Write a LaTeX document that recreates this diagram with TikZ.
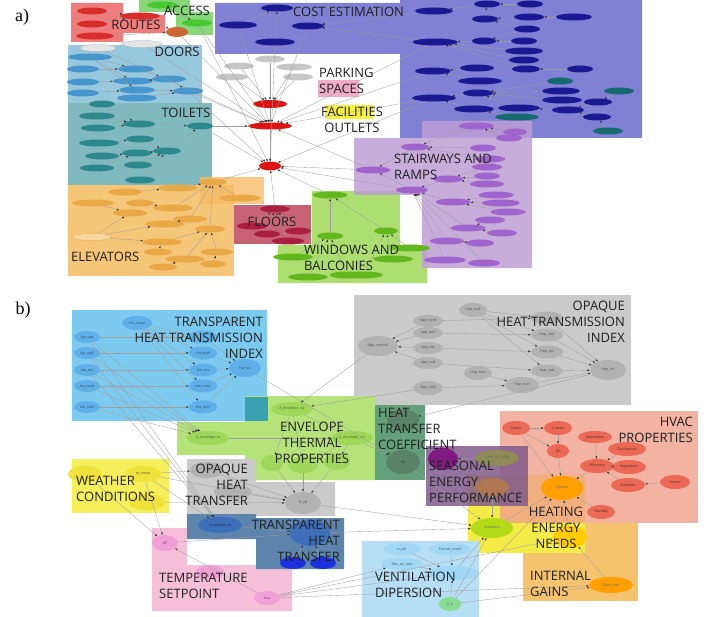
\documentclass[tikz,border=0pt]{standalone}
\usepackage{fontspec}
\setmainfont{Open Sans}
\newfontfamily\panelfont{Liberation Serif}
\usetikzlibrary{arrows.meta,shapes.geometric}

% panel a colours
\definecolor{routeBox}{RGB}{240,125,125}
\definecolor{routeNode}{RGB}{215,45,45}
\definecolor{accBox}{RGB}{135,215,120}
\definecolor{accNode}{RGB}{70,200,50}
\definecolor{costBox}{RGB}{128,128,212}
\definecolor{costNode}{RGB}{25,25,145}
\definecolor{costTeal}{RGB}{20,105,110}
\definecolor{doorBox}{RGB}{152,200,222}
\definecolor{doorNode}{RGB}{70,150,205}
\definecolor{toilBox}{RGB}{128,186,190}
\definecolor{toilNode}{RGB}{45,135,140}
\definecolor{elevBox}{RGB}{246,198,120}
\definecolor{elevNode}{RGB}{232,168,70}
\definecolor{floorBox}{RGB}{200,98,118}
\definecolor{floorNode}{RGB}{170,30,65}
\definecolor{winBox}{RGB}{172,222,112}
\definecolor{winNode}{RGB}{100,182,30}
\definecolor{stairBox}{RGB}{190,158,212}
\definecolor{stairNode}{RGB}{160,100,205}
\definecolor{parkBox}{RGB}{240,172,200}
\definecolor{facBox}{RGB}{245,240,60}
\definecolor{hubNode}{RGB}{222,20,20}
% panel b colours
\definecolor{tBox}{RGB}{125,202,240}
\definecolor{tNode}{RGB}{95,175,232}
\definecolor{envBox}{RGB}{182,226,122}
\definecolor{envNode}{RGB}{160,215,90}
\definecolor{coefBox}{RGB}{100,160,122}
\definecolor{coefNode}{RGB}{90,130,105}
\definecolor{opBox}{RGB}{202,202,202}
\definecolor{opNode}{RGB}{178,178,178}
\definecolor{hvacBox}{RGB}{240,160,140}
\definecolor{hvacNode}{RGB}{235,105,85}
\definecolor{seasBox}{RGB}{128,90,140}
\definecolor{heatBox}{RGB}{245,235,70}
\definecolor{gainBox}{RGB}{245,195,110}
\definecolor{ventBox}{RGB}{182,222,245}
\definecolor{ventNode}{RGB}{160,215,245}
\definecolor{weatBox}{RGB}{245,240,90}
\definecolor{weatNode}{RGB}{240,225,60}
\definecolor{trBox}{RGB}{92,132,172}
\definecolor{trNode}{RGB}{60,110,185}
\definecolor{tempBox}{RGB}{245,192,215}
\definecolor{tempNode}{RGB}{240,160,215}

\begin{document}
\begin{tikzpicture}[x=1pt,y=-1pt]
\tikzset{
  el/.style={ellipse,inner sep=0pt,minimum height=7pt,minimum width=24pt,font=\fontsize{3.6}{4}\selectfont},
  grp/.style={font=\fontsize{13}{16}\selectfont,text=black!88,inner sep=0pt},
  panel/.style={font=\panelfont\fontsize{18}{20}\selectfont,inner sep=0pt},
  arr/.style={-{Latex[length=2.4pt,width=2pt,color=black!80]},draw=gray!75,line width=0.35pt}
}
\useasboundingbox (0,0) rectangle (708,617);

%% ---------------- a) groups
\fill[routeBox] (71,3) rectangle (123,42) (123,15) rectangle (165,33);
\fill[accBox] (139,0) rectangle (190,12) (176,12) rectangle (213,35);
\fill[costBox] (215,3)--(400,3)--(400,0)--(642,0)--(642,138)--(400,138)--(400,54)--(215,54)--cycle;
\fill[doorBox] (68,45) rectangle (202,103);
\fill[toilBox] (68,103) rectangle (212,185);
\fill[elevBox] (68,185) rectangle (234,276);
\fill[elevBox!85!orange,opacity=0.8] (200,177) rectangle (264,204);
\fill[floorBox] (234,205) rectangle (311,244);
\fill[winBox] (312,191)--(400,191)--(400,245)--(427,245)--(427,283)--(278,283)--(278,245)--(312,245)--cycle;
\fill[stairBox,opacity=0.85] (422,121)--(532,121)--(532,268)--(422,268)--(422,195)--(354,195)--(354,138)--(422,138)--cycle;
\fill[parkBox] (318,80) rectangle (359,97);
\fill[facBox] (325,105) rectangle (373,119);

%% ---------------- b) groups
\fill[tBox] (72,310) rectangle (267,421);
\fill[opBox] (354,295) rectangle (631,405);
\fill[envBox] (245,396)--(375,396)--(375,480)--(245,480)--(245,455)--(177,455)--(177,422)--(245,422)--cycle;
\fill[teal!55!tBox] (245,397) rectangle (268,421);
\fill[coefBox] (375,405) rectangle (425,480);
\fill[gainBox] (523,523) rectangle (638,601);
\fill[heatBox] (468,475) rectangle (585,553);
\fill[hvacBox,opacity=0.8] (500,411) rectangle (698,523);
\fill[seasBox,opacity=0.85] (426,446) rectangle (528,506);
\fill[ventBox] (362,541) rectangle (479,617);
\fill[weatBox] (72,459) rectangle (169,513);
\fill[opBox] (187,459)--(256,459)--(256,482)--(335,482)--(335,516)--(187,516)--cycle;
\fill[tempBox] (152,528)--(187,528)--(187,565)--(292,565)--(292,611)--(152,611)--cycle;
\fill[trBox] (187,514)--(256,514)--(256,518)--(344,518)--(344,569)--(256,569)--(256,539)--(187,539)--cycle;

%% ---------------- a) nodes
\foreach \n/\x/\y/\w in {r1/92/11/30,r2/92/24/30,r3/95/36/38,r4/140/16/40}
  \node[el,fill=routeNode,minimum width=\w] (\n) at (\x,\y) {};
\node[el,fill=brown!80!red,minimum width=22pt,minimum height=10pt] (r5) at (177,32) {};
\foreach \n/\x/\y/\w in {a1/162/5/30,a2/197/23/30}
  \node[el,fill=accNode,minimum width=\w] (\n) at (\x,\y) {};
\foreach \n/\x/\y/\w in {c1/277/8/32,c2/238/25/38,c3/308/26/32,c4/275/42/40,c5/434/11/38,
    c6/487/4/26,c7/530/4/26,c8/485/19/26,c9/529/17/30,c10/574/17/36,c11/527/29/26,
    c12/435/42/45,c13/484/41/24,c14/524/41/26,c15/524/51/38,c16/524/60/30,c17/526/69/28,
    c18/580/69/26,c19/433/71/36,c20/477/68/34,c21/480/81/44,c23/434/98/44,c24/478/93/30,
    c25/561/91/38,c26/562/100/40,c27/474/109/40,c28/519/108/42,c29/568/110/32,c30/598/102/28,c32/597/117/28}
  \node[el,fill=costNode,minimum width=\w] (\n) at (\x,\y) {};
\foreach \n/\x/\y/\w in {c22/560/81/26,c31/619/91/30,c33/608/131/30,c34/517/117/44}
  \node[el,fill=costTeal,minimum width=\w] (\n) at (\x,\y) {};
\foreach \n/\x/\y/\w in {d1/98/48/36,d2/142/44/40}
  \node[el,fill=gray!20,draw=gray!60,line width=0.3pt,minimum width=\w] (\n) at (\x,\y) {};
\foreach \n/\x/\y/\w in {d3/90/57/44,d4/83/69/32,d5/136/69/36,d6/83/82/32,d7/133/81/40,d8/169/79/34,
    d9/83/93/32,d10/137/90/36,d11/188/91/30,d12/137/98/40}
  \node[el,fill=doorNode,minimum width=\w] (\n) at (\x,\y) {};
\foreach \n/\x/\y/\w in {t1/102/104/26,t2/97/116/36,t3/139/124/32,t4/98/128/34,t5/200/126/26,
    t6/99/143/40,t7/140/139/28,t8/102/156/34,t9/137/153/30,t10/167/151/28,t11/97/168/34,
    t12/138/165/28,t13/140/180/30}
  \node[el,fill=toilNode,minimum width=\w] (\n) at (\x,\y) {};
\foreach \n/\x/\y/\w in {e1/125/192/34,e2/178/188/40,e3/213/182/28,e4/93/203/42,e5/140/203/28,
    e6/130/213/35,e7/173/208/40,e8/240/198/42,e9/190/219/34,e10/165/224/40,e12/210/229/30,
    e13/162/242/40,e14/158/252/28,e15/217/252/32,e16/185/259/40,e17/163/267/28,e18/213/264/26}
  \node[el,fill=elevNode,minimum width=\w] (\n) at (\x,\y) {};
\node[el,fill=elevBox!70!white,draw=elevNode,line width=0.3pt,minimum width=40pt] (e11) at (92,237) {};
\foreach \n/\x/\y/\w in {f1/275/209/30,f2/252/226/30,f3/267/234/26,f4/298/231/26,f5/288/241/32}
  \node[el,fill=floorNode,minimum width=\w] (\n) at (\x,\y) {};
\foreach \n/\x/\y/\w in {w1/330/195/35,w2/330/236/26,w9/386/231/24,w3/293/257/40,w4/410/248/40,
    w5/393/259/40,w6/308/277/40,w7/347/275/35,w8/363/275/40}
  \node[el,fill=winNode,minimum width=\w] (\n) at (\x,\y) {};
\foreach \n/\x/\y/\w in {s1/476/126/35,s2/515/132/24,s3/509/138/26,s4/415/147/28,s5/483/148/26,
    s6/490/159/30,s7/487/167/30,s8/373/170/35,s9/448/179/30,s10/487/176/26,s11/487/184/34,
    s12/412/190/32,s13/496/195/35,s14/453/202/35,s15/501/203/38,s16/508/212/35,s17/490/220/30,
    s18/468/228/35,s19/502/233/30,s20/447/241/35,s21/480/243/28,s22/445/260/42,s23/484/263/32}
  \node[el,fill=stairNode,minimum width=\w] (\n) at (\x,\y) {};
\foreach \n/\x/\y/\w in {g1/270/59/30,g2/239/66/30,g3/294/67/36,g4/232/77/32,g5/298/77/30}
  \node[el,fill=gray!45,minimum width=\w] (\n) at (\x,\y) {};
\node[el,fill=hubNode,minimum width=34pt,minimum height=8pt] (h1) at (270,104) {};
\node[el,fill=hubNode,minimum width=44pt,minimum height=7pt] (h2) at (270,126) {};
\node[el,fill=hubNode,minimum width=22pt,minimum height=9pt] (h3) at (270,166) {};

%% ---------------- b) nodes
\foreach \n/\x/\y/\w/\h/\lbl in {hwmean/137/323/30/14/Hw\_mean,awsud/87/337/26/12/Aw\_sud,
    awwall/87/353/26/12/Aw\_wall,awest/87/370/26/12/Aw\_est,awnord/87/386/26/12/Aw\_nord,
    awroof/87/407/26/12/Aw\_roof,hwsud/203/337/28/13/{},hwwall/203/353/28/13/Hw\_wall,
    hwest/203/370/28/13/Hw\_est,hwnord/203/386/28/13/Hw\_nord,hwroof/203/407/28/13/Hw\_roof,
    hwtot/245/368/32/18/Hw\_tot}
  \node[el,fill=tNode,text=tNode!45!black,minimum width=\w,minimum height=\h] (\n) at (\x,\y) {\lbl};
\foreach \n/\x/\y/\w/\h/\lbl in {aenvw/208/438/42/14/A\_envelope\_w,aenvop/292/409/42/14/A\_envelope\_op,
    aenvtot/352/438/42/14/A\_envelope\_tot,hea/272/463/22/16/{},heb/303/465/30/16/{},hec/337/462/26/16/{}}
  \node[el,fill=envNode,text=envNode!45!black,minimum width=\w,minimum height=\h] (\n) at (\x,\y) {\lbl};
\foreach \n/\x/\y/\w/\h/\lbl in {uopwall/473/310/28/14/Uop\_wall,appnord/428/321/30/12/App\_nord,
    appwall/428/333/30/12/App\_wall,appest/428/348/30/12/App\_est,appsud/428/363/30/12/App\_sud,
    approof/428/388/30/14/App\_roof,appvert/378/346/40/20/App\_vertical,hopnord/547/318/32/13/{},
    hopwall/547/335/32/13/Hop\_wall,hopest/547/352/32/13/Hop\_est,hopsud/547/371/32/13/Hop\_sud,
    uoproof/478/373/28/14/Uop\_roof,hoproof/522/385/34/16/Hop\_roof,hoptot/608/370/36/20/Hop\_tot,
    op1/207/470/34/16/{},irrop/233/492/38/14/{},hop/303/503/36/22/H\_op}
  \node[el,fill=opNode,text=opNode!45!black,minimum width=\w,minimum height=\h] (\n) at (\x,\y) {\lbl};
\foreach \n/\x/\y/\w/\h/\lbl in {htr/403/420/32/22/{},ht/403/462/34/24/Ht}
  \node[el,fill=coefNode,text=coefNode!40!black,minimum width=\w,minimum height=\h] (\n) at (\x,\y) {\lbl};
\node[el,fill=violet!70!seasBox,minimum width=30pt,minimum height=22pt] (pse) at (443,459) {};
\node[el,fill=gray!60!olive,text=black!60,minimum width=44pt,minimum height=16pt] (hrate) at (497,458) {Heating\_rating};
\node[el,fill=brown!75!seasBox,minimum width=34pt,minimum height=18pt] (qnd) at (492,487) {};
\foreach \n/\x/\y/\w/\h/\lbl in {power/516/428/28/14/Power,vwater/558/428/28/14/V\_water,
    gener/595/437/34/12/Generation,distr/627/449/38/14/Distribution,qh/558/451/22/14/Qh,
    effic/597/466/34/14/Efficiency,regul/629/467/34/14/Regulation,emiss/628/485/34/14/Emission,
    heater/675/482/30/14/Heater,standby/601/512/28/14/Standby}
  \node[el,fill=hvacNode,text=hvacNode!40!black,minimum width=\w,minimum height=\h] (\n) at (\x,\y) {\lbl};
\node[el,fill=orange!75!yellow,text=black!60,minimum width=42pt,minimum height=24pt] (system) at (562,488) {System};
\node[el,fill=yellow!70!green,text=black!60,minimum width=42pt,minimum height=20pt] (envel) at (492,528) {Envelope};
\node[el,fill=orange!40!yellow,minimum width=34pt,minimum height=22pt] (qgain) at (570,537) {};
\node[el,fill=orange!75!yellow,text=black!60,minimum width=44pt,minimum height=16pt] (gainsocc) at (611,585) {Gains\_occ};
\foreach \n/\x/\y/\w/\h/\lbl in {mair/402/549/38/12/m\_air,forced/450/549/42/12/Forced\_ventil,
    extr/402/564/42/12/Extr\_air\_rate,hv/453/573/50/14/{}}
  \node[el,fill=ventNode,text=ventNode!40!black,minimum width=\w,minimum height=\h] (\n) at (\x,\y) {\lbl};
\node[el,fill=green!25!ventNode!60!envNode,text=black!60,minimum width=22pt,minimum height=14pt] (au) at (450,604) {A\_u};
\foreach \n/\x/\y/\w/\h/\lbl in {dt/165/543/26/16/dT,tset/210/572/28/14/{},usa/267/598/26/14/Usa}
  \node[el,fill=tempNode,text=tempNode!40!black,minimum width=\w,minimum height=\h] (\n) at (\x,\y) {\lbl};
\foreach \n/\x/\y/\w/\h/\lbl in {wt1/85/474/34/16/{},temean/143/474/36/16/te\_mean,isol/147/502/36/16/{}}
  \node[el,fill=weatNode,text=weatNode!40!black,minimum width=\w,minimum height=\h] (\n) at (\x,\y) {\lbl};
\foreach \n/\x/\y/\w/\h/\lbl in {irrw/220/525/44/16/Irradiation\_w,hwbig/310/533/40/26/{}}
  \node[el,fill=trNode,text=trNode!40!black,minimum width=\w,minimum height=\h] (\n) at (\x,\y) {\lbl};
\foreach \n/\x in {tw1/293,tw2/323}
  \node[el,fill=blue!55!trNode,minimum width=26pt,minimum height=12pt] (\n) at (\x,563) {};

%% ---------------- a) connectors
\foreach \a/\b in {r1/r4,r2/r4,r4/r5,r3/r5,a1/a2,
    c4/c1,c2/c1,c5/c3,c6/c5,c8/c6,c7/c6,c9/c8,c10/c9,c11/c8,c13/c12,c14/c13,c11/c13,c15/c12,c16/c12,
    c17/c12,c18/c17,c20/c19,c21/c19,c24/c23,c22/c24,c25/c24,c26/c24,c28/c24,c29/c28,c30/c29,c31/c30,
    c32/c29,c33/c32,c34/c27,c27/c23,c12/c3,
    d3/d5,d3/d7,d4/d5,d5/d8,d6/d7,d7/d8,d9/d10,d10/d11,d8/d11,d12/d11,d3/d10,
    t1/t3,t2/t3,t4/t3,t3/t5,t6/t7,t7/t10,t8/t9,t11/t9,t9/t10,t12/t10,t13/t10,t10/t5,
    e1/e2,e2/e3,e4/e6,e5/e7,e7/e3,e11/e6,e11/e10,e11/e13,e9/e3,e12/e3,e13/e12,e14/e13,e16/e12,
    e15/e12,e17/e16,e18/e15,e8/e3,e10/e9,
    f2/f1,f3/f1,f4/f1,f5/f1,
    w2/w1,w3/w2,w6/w2,w7/w2,w4/w9,w5/w9,w8/w9,w9/w1,
    s2/s1,s3/s1,s1/s4,s5/s4,s6/s4,s4/s8,s7/s9,s10/s9,s11/s9,s9/s12,s12/s8,s13/s14,s15/s14,s16/s14,
    s14/s12,s17/s18,s19/s18,s18/s12,s21/s20,s20/s12,s22/s12,s23/s12,
    g1/h1,g2/h1,g3/h1,g4/h1,g5/h1,
    r5/h2,a2/h2,c2/h2,c3/h2,c12/h2,c19/h2,c23/h2,d11/h2,t5/h2,d1/h2,d2/h2,s8/h2,h1/h2,
    e3/h3,f1/h3,w1/h3,s8/h3,a2/h3,c4/h3,d11/h3,t5/h3,h2/h3,s12/h3,c23/h3}
  \draw[arr] (\a) -- (\b);

%% ---------------- b) connectors
\foreach \a/\b in {awsud/hwsud,awwall/hwwall,awest/hwest,awnord/hwnord,awroof/hwroof,
    hwmean/hwwall,hwmean/hwest,hwmean/hwnord,hwmean/hwroof,hwmean/hwsud,
    hwsud/hwtot,hwwall/hwtot,hwest/hwtot,hwnord/hwtot,hwroof/hwtot,
    awsud/aenvw,awwall/aenvw,awest/aenvw,awnord/aenvw,awroof/aenvw,
    awwall/irrw,awest/irrw,awsud/irrw,hwtot/ht,
    aenvw/aenvtot,aenvop/aenvtot,appvert/aenvop,approof/aenvop,aenvtot/ht,
    aenvop/hea,aenvop/heb,aenvtot/hec,aenvtot/heb,hea/hop,heb/hop,hec/hop,
    appnord/appvert,appwall/appvert,appest/appvert,appsud/appvert,
    appnord/hopnord,appwall/hopwall,appest/hopest,appsud/hopsud,approof/hoproof,
    uopwall/hopnord,uopwall/hopwall,uopwall/hopest,uopwall/hopsud,uoproof/hoproof,
    hopnord/hoptot,hopwall/hoptot,hopest/hoptot,hopsud/hoptot,hoproof/hoptot,hoptot/htr,htr/ht,
    temean/op1,temean/irrw,temean/hop,wt1/dt,temean/dt,isol/hop,op1/hop,irrop/hop,
    irrw/hwbig,dt/hwbig,usa/dt,tw1/hwbig,tw2/hwbig,hop/envel,hwbig/envel,ht/envel,
    usa/extr,usa/hv,usa/gainsocc,usa/qgain,mair/hv,forced/hv,extr/hv,au/hv,hv/envel,au/envel,
    au/gainsocc,au/system,gainsocc/qgain,qgain/system,
    power/vwater,power/qh,vwater/qh,qh/system,gener/effic,distr/effic,regul/effic,emiss/effic,
    heater/emiss,effic/system,power/system,standby/system,envel/system,hrate/pse,qnd/envel}
  \draw[arr] (\a) -- (\b);

%% ---------------- labels
\node[panel] (pa) at (22,17) {a)};
\node[panel] (pb) at (23,310) {b)};
\node[grp] (lroutes) at (136,25) {ROUTES};
\node[grp] (laccess) at (187,11) {ACCESS};
\node[grp,anchor=west] (lcost) at (293,12) {COST ESTIMATION};
\node[grp] (ldoors) at (177,52) {DOORS};
\node[grp] (ltoilets) at (186,113) {TOILETS};
\node[grp,anchor=west] (lelev) at (71,257) {ELEVATORS};
\node[grp] (lfloors) at (272,222) {FLOORS};
\node[grp,anchor=west,align=left] (lwin) at (304,258) {WINDOWS AND\\BALCONIES};
\node[grp,anchor=west,align=left] (lpark) at (319,81) {PARKING\\SPACES};
\node[grp,align=center] (lfac) at (352,120) {FACILITIES\\OUTLETS};
\node[grp,anchor=west,align=left] (lstair) at (394,167) {STAIRWAYS AND\\RAMPS};

\node[grp,anchor=east,align=right] (ltrind) at (263,338) {TRANSPARENT\\HEAT TRANSMISSION\\INDEX};
\node[grp,anchor=east,align=right] (lopind) at (625,322) {OPAQUE\\HEAT TRANSMISSION\\INDEX};
\node[grp,align=center] (lenv) at (312,443) {ENVELOPE\\THERMAL\\PROPERTIES};
\node[grp,anchor=west,align=left] (lcoef) at (378,429) {HEAT\\TRANSFER\\COEFFICIENT};
\node[grp,anchor=east,align=right] (lhvac) at (693,430) {HVAC\\PROPERTIES};
\node[grp,anchor=west,align=left] (lseas) at (429,482) {SEASONAL\\ENERGY\\PERFORMANCE};
\node[grp,align=center] (lheat) at (556,528) {HEATING\\ENERGY\\NEEDS};
\node[grp,anchor=west,align=left] (lgains) at (530,584) {INTERNAL\\GAINS};
\node[grp,anchor=west,align=left] (lvent) at (375,585) {VENTILATION\\DIPERSION};
\node[grp,anchor=west,align=left] (lweat) at (76,489) {WEATHER\\CONDITIONS};
\node[grp,anchor=east,align=right] (lopht) at (248,485) {OPAQUE\\HEAT\\TRANSFER};
\node[grp,anchor=east,align=right] (ltrht) at (340,541) {TRANSPARENT\\HEAT\\TRANSFER};
\node[grp,anchor=west,align=left] (ltemp) at (159,586) {TEMPERATURE\\SETPOINT};
\end{tikzpicture}
\end{document}
